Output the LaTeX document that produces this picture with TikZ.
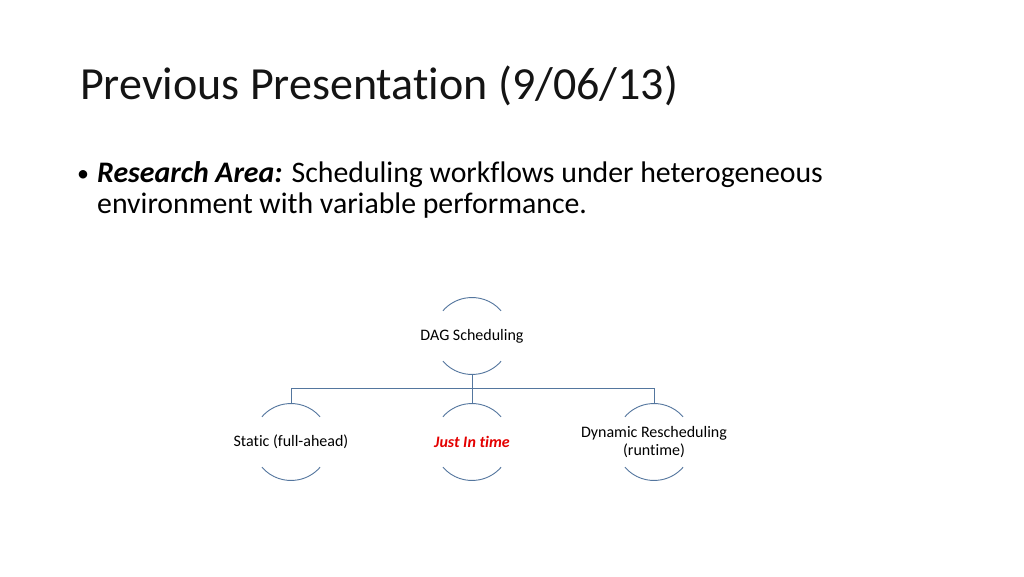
\documentclass[tikz,border=0pt]{standalone}
\usepackage{fontspec}
\setmainfont{Carlito}[Ligatures={NoCommon}]
\definecolor{linkcol}{RGB}{84,118,158}
\definecolor{jitred}{RGB}{228,0,0}
\definecolor{titlecol}{RGB}{20,20,20}
\begin{document}
\begin{tikzpicture}[x=1pt,y=1pt,
  circ/.style={circle,minimum size=77pt,inner sep=0pt,outer sep=0pt,draw=none},
  arcline/.style={draw=linkcol,line width=0.9pt},
  link/.style={draw=linkcol,line width=0.9pt},
  lbl/.style={font=\fontsize{16}{18.5}\selectfont,align=center,text=black,inner sep=0pt},
  ttl/.style={font=\fontsize{46}{56}\selectfont,text=titlecol,anchor=base west,inner sep=0pt},
  body/.style={font=\fontsize{29.8}{31}\selectfont,text=black,anchor=base west,inner sep=0pt}]
\useasboundingbox[fill=white] (0,0) rectangle (1024,576);
% title and bullet text
\node[ttl] (title) at (80,476) {Previous Presentation (9/06/13)};
\node[body,font=\fontsize{24}{31}\selectfont] (bullet) at (77,394) {\textbullet};
\node[body] (line1) at (97,393) {\textbf{\textit{Research Area:}} Scheduling workflows under heterogeneous};
\node[body] (line2) at (97,362) {environment with variable performance.};
% circles
\node[circ] (dag) at (472,240) {};
\node[circ] (static) at (291,134) {};
\node[circ] (jit) at (472,134) {};
\node[circ] (dyn) at (654,134) {};
\foreach \n in {dag,static,jit,dyn}{
  \draw[arcline] (\n.41) arc[start angle=41,end angle=139,radius=38.5pt];
  \draw[arcline] (\n.-139) arc[start angle=-139,end angle=-41,radius=38.5pt];
}
% labels
\node[lbl] (dagt) at (dag.center) {DAG Scheduling};
\node[lbl] (statict) at (static.center) {Static (full-ahead)};
\node[lbl,text=jitred,font=\fontsize{16}{18.5}\selectfont\bfseries\itshape] (jitt) at (jit.center) {Just In time};
\node[lbl] (dynt) at (dyn.center) {Dynamic Rescheduling\\(runtime)};
% connectors
\draw[link] (dag.south) -- ++(0,-13.5) coordinate (bar);
\draw[link] (bar) -| (static.north);
\draw[link] (bar) -| (dyn.north);
\draw[link] (bar) -- (jit.north);
\end{tikzpicture}
\end{document}
